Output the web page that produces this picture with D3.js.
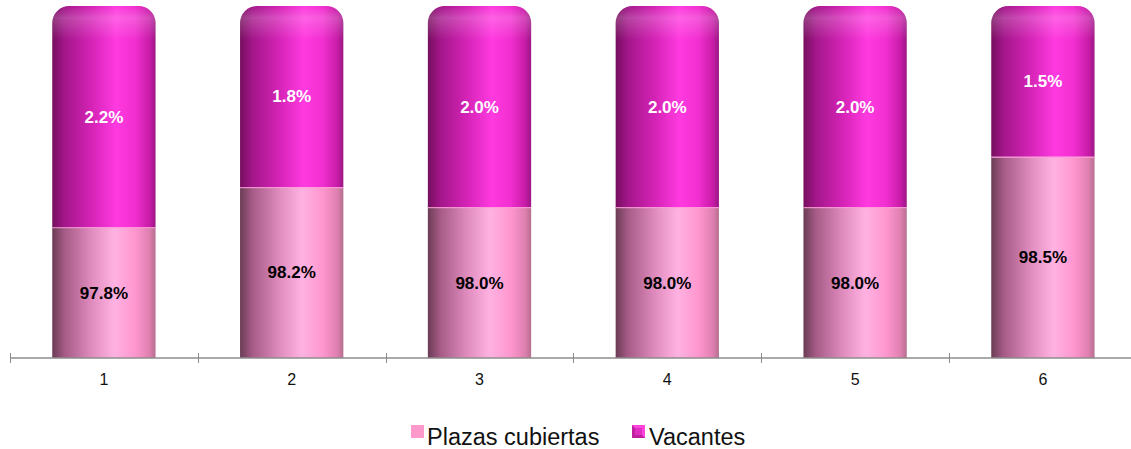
<!DOCTYPE html>
<html>
<head>
<meta charset="utf-8">
<script src="https://cdn.jsdelivr.net/npm/d3@7"></script>
<style>
  body { margin: 0; background: #fff; }
  svg { display: block; font-family: "Liberation Sans", Arial, sans-serif; }
</style>
</head>
<body>
<div id="chart"></div>
<script>
// data
var categories = ["1", "2", "3", "4", "5", "6"];
var plazasCubiertas = [97.8, 98.2, 98.0, 98.0, 98.0, 98.5];
var vacantes = [2.2, 1.8, 2.0, 2.0, 2.0, 1.5];
var seriesNames = ["Plazas cubiertas", "Vacantes"];

var W = 1131, H = 449;
var svg = d3.select("#chart").append("svg")
  .attr("width", W).attr("height", H);

var defs = svg.append("defs");

function hGrad(id, stops) {
  var g = defs.append("linearGradient").attr("id", id)
    .attr("x1", "0%").attr("x2", "100%").attr("y1", "0%").attr("y2", "0%");
  stops.forEach(function(s) {
    g.append("stop").attr("offset", s[0]).attr("stop-color", s[1]);
  });
}
hGrad("gVac", [["0%", "#760e5e"], ["12%", "#a3168a"], ["38%", "#d523b6"], ["62%", "#ff3ae0"], ["80%", "#f22fd0"], ["94%", "#c81ca8"], ["100%", "#9c1785"]]);
hGrad("gPla", [["0%", "#6a3c55"], ["12%", "#a65b86"], ["38%", "#df8bbe"], ["60%", "#ffb2e2"], ["80%", "#ff97cf"], ["94%", "#df7fb0"], ["100%", "#b76f90"]]);

var cap = defs.append("linearGradient").attr("id", "gCap")
  .attr("x1", "0%").attr("x2", "0%").attr("y1", "0%").attr("y2", "100%");
cap.append("stop").attr("offset", "0%").attr("stop-color", "#fff").attr("stop-opacity", 0.0);
cap.append("stop").attr("offset", "35%").attr("stop-color", "#fff").attr("stop-opacity", 0.2);
cap.append("stop").attr("offset", "100%").attr("stop-color", "#fff").attr("stop-opacity", 0);

var x = d3.scaleBand().domain(categories)
  .range([10, 10 + 6 * 187.8]).paddingInner(0.45).paddingOuter(0.225);
var y = d3.scaleLinear().domain([96.5, 100]).range([358, 6]);

var rows = categories.map(function(c, i) {
  return { cat: c, pla: plazasCubiertas[i], vac: vacantes[i] };
});

var bars = svg.selectAll(".bar").data(rows).enter().append("g").attr("class", "bar");

// bottom segment
bars.append("rect")
  .attr("x", function(d) { return x(d.cat); })
  .attr("width", x.bandwidth())
  .attr("y", function(d) { return y(d.pla); })
  .attr("height", function(d) { return y(96.5) - y(d.pla); })
  .attr("fill", "url(#gPla)");

// top segment with rounded cap
function capPath(d, bottom) {
  var x0 = x(d.cat), x1 = x0 + x.bandwidth();
  var yt = y(d.pla + d.vac), yb = bottom == null ? y(d.pla) : yt + bottom;
  var rx = 17, ry = 17;
  return "M" + x0 + "," + yb +
    "L" + x0 + "," + (yt + ry) +
    "A" + rx + "," + ry + " 0 0 1 " + (x0 + rx) + "," + yt +
    "L" + (x1 - rx) + "," + yt +
    "A" + rx + "," + ry + " 0 0 1 " + x1 + "," + (yt + ry) +
    "L" + x1 + "," + yb + "Z";
}
bars.append("path").attr("d", function(d) { return capPath(d); }).attr("fill", "url(#gVac)");
bars.append("path").attr("d", function(d) { return capPath(d, 34); }).attr("fill", "url(#gCap)");

// light seam at boundary
bars.append("line")
  .attr("x1", function(d) { return x(d.cat); })
  .attr("x2", function(d) { return x(d.cat) + x.bandwidth(); })
  .attr("y1", function(d) { return y(d.pla) + 0.5; })
  .attr("y2", function(d) { return y(d.pla) + 0.5; })
  .attr("stroke", "#ff9fdc").attr("stroke-width", 1.2).attr("opacity", 0.8);

// data labels
bars.append("text")
  .attr("x", function(d) { return x(d.cat) + x.bandwidth() / 2; })
  .attr("y", function(d) { return (y(d.pla + d.vac) + y(d.pla)) / 2; })
  .attr("dy", "0.35em").attr("text-anchor", "middle")
  .attr("font-size", 17).attr("font-weight", "bold").attr("fill", "#fff")
  .text(function(d) { return d.vac.toFixed(1) + "%"; });

bars.append("text")
  .attr("x", function(d) { return x(d.cat) + x.bandwidth() / 2; })
  .attr("y", function(d) { return (y(d.pla) + y(96.5)) / 2; })
  .attr("dy", "0.35em").attr("text-anchor", "middle")
  .attr("font-size", 17).attr("font-weight", "bold").attr("fill", "#000")
  .text(function(d) { return d.pla.toFixed(1) + "%"; });

// x axis
var axis = svg.append("g");
axis.append("line").attr("x1", 10).attr("x2", W).attr("y1", 358).attr("y2", 358)
  .attr("stroke", "#8c8c8c").attr("stroke-width", 1.5);
var step = x.step();
d3.range(categories.length + 1).forEach(function(i) {
  var tx = Math.round(10 + i * step) + 0.5;
  axis.append("line").attr("x1", tx).attr("x2", tx).attr("y1", 353).attr("y2", 363)
    .attr("stroke", "#8c8c8c").attr("stroke-width", 1);
});
axis.selectAll(".cl").data(categories).enter().append("text")
  .attr("x", function(d) { return x(d) + x.bandwidth() / 2; })
  .attr("y", 385).attr("text-anchor", "middle")
  .attr("font-size", 16).attr("fill", "#111")
  .text(function(d) { return d; });

// legend
var leg = svg.append("g");
leg.append("rect").attr("x", 411).attr("y", 425).attr("width", 13).attr("height", 13).attr("fill", "#ff99cc");
leg.append("text").attr("x", 427).attr("y", 445).attr("font-size", 23.5).attr("fill", "#111").text(seriesNames[0]);
leg.append("rect").attr("x", 632).attr("y", 425).attr("width", 13).attr("height", 13).attr("fill", "#c020a0");
leg.append("path").attr("d", "M632,425 L645,438 L645,425 Z").attr("fill", "#ff44dd");
leg.append("rect").attr("x", 635).attr("y", 428).attr("width", 7).attr("height", 7).attr("fill", "#e02cc0");
leg.append("text").attr("x", 649).attr("y", 445).attr("font-size", 23.5).attr("fill", "#111").text(seriesNames[1]);
</script>
</body>
</html>
